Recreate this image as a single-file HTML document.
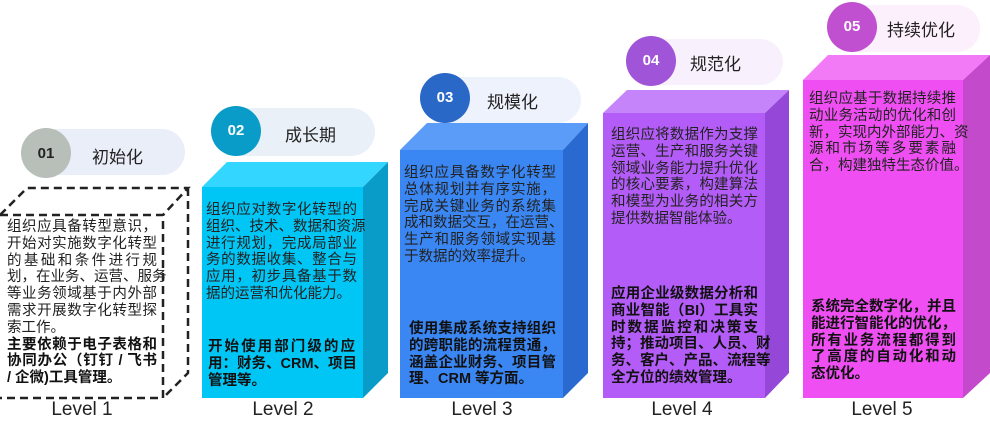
<!DOCTYPE html>
<html><head><meta charset="utf-8"><style>
body{margin:0;width:990px;height:430px;background:#fff;position:relative;overflow:hidden;font-family:"Liberation Sans","Noto Sans CJK SC",sans-serif;}
svg{position:absolute;left:0;top:0}
.t{position:absolute;font-size:14.5px;line-height:16.8px;color:#222;}
.t div{text-align:justify;text-align-last:justify;white-space:nowrap;}
.t div.e{text-align-last:left}
.b{font-weight:bold;color:#111}
.lv{position:absolute;top:399px;font-size:19px;color:#222;width:160px;text-align:center}
.n{position:absolute;font-weight:bold;color:#fff;font-size:15px;text-align:center;width:48px}
.h{position:absolute;font-size:17px;color:#222}
</style></head><body>
<svg width="990" height="430">
<g fill="none" stroke="#222" stroke-width="2.5" stroke-dasharray="8,5">
<polyline points="0,215 163,215 163,398 0,398"/>
<polyline points="0,215 27,188 188,188 163,215"/>
<polyline points="188,188 188,373 163,398"/>
</g>
<polygon points="202,187 227,162 388,162 363,187" fill="#33d6ff"/>
<polygon points="363,187 388,162 388,373 363,398" fill="#0a9cc8"/>
<rect x="202" y="187" width="161" height="211" fill="#00c6f6"/>
<polygon points="400,150 427,123 588,123 563,150" fill="#5a9cf7"/>
<polygon points="563,150 588,123 588,373 563,398" fill="#2a6ad0"/>
<rect x="400" y="150" width="163" height="248" fill="#3a86f2"/>
<polygon points="603,113 627,90 789,90 765,113" fill="#c684fa"/>
<polygon points="765,113 789,90 789,373 765,398" fill="#9548d8"/>
<rect x="603" y="113" width="162" height="285" fill="#b35cf7"/>
<polygon points="803,80 828,55 990,55 963,80" fill="#f27af7"/>
<polygon points="963,80 990,55 990,373 963,398" fill="#c44acc"/>
<rect x="803" y="80" width="160" height="318" fill="#ef4ff2"/>
<rect x="22" y="129" width="163" height="46" rx="23" fill="#eaeef8"/>
<circle cx="46" cy="153" r="25" fill="#b8bfb8"/>
<rect x="212" y="108" width="163" height="48" rx="24" fill="#eaf0f8"/>
<circle cx="236" cy="131" r="25" fill="#0a9cc8"/>
<rect x="421" y="77" width="160" height="46" rx="23" fill="#eef2fc"/>
<circle cx="445" cy="98" r="25" fill="#2a68c8"/>
<rect x="627" y="39" width="156" height="46" rx="23" fill="#f8f0fc"/>
<circle cx="651" cy="61" r="25" fill="#a054d8"/>
<rect x="828" y="5" width="152" height="47" rx="23" fill="#fcf0fc"/>
<circle cx="852" cy="27" r="25" fill="#c050d0"/>
</svg>
<div class="n" style="left:22px;top:145px;color:#222">01</div>
<div class="h" style="left:92px;top:143px">初始化</div>
<div class="n" style="left:212px;top:122px">02</div>
<div class="h" style="left:285px;top:121px">成长期</div>
<div class="n" style="left:421px;top:89px">03</div>
<div class="h" style="left:487px;top:88px">规模化</div>
<div class="n" style="left:627px;top:52px">04</div>
<div class="h" style="left:690px;top:50px">规范化</div>
<div class="n" style="left:828px;top:18px">05</div>
<div class="h" style="left:887px;top:16px">持续优化</div>

<div class="t" style="left:7px;top:219px;width:150px">
<div>组织应具备转型意识，</div><div>开始对实施数字化转型</div><div>的基础和条件进行规</div><div>划，在业务、运营、服务</div><div>等业务领域基于内外部</div><div>需求开展数字化转型探</div><div class="e">索工作。</div>
<div class="b">主要依赖于电子表格和</div><div class="b">协同办公（钉钉 / 飞书</div><div class="b e">/ 企微)工具管理。</div></div>
<div class="t" style="left:206px;top:202px;width:151px">
<div>组织应对数字化转型的</div><div>组织、技术、数据和资源</div><div>进行规划，完成局部业</div><div>务的数据收集、整合与</div><div>应用，初步具备基于数</div><div class="e">据的运营和优化能力。</div></div>
<div class="t b" style="left:208px;top:339px;width:147px">
<div>开始使用部门级的应</div><div>用：财务、CRM、项目</div><div class="e">管理等。</div></div>
<div class="t" style="left:404px;top:165px;width:152px">
<div>组织应具备数字化转型</div><div>总体规划并有序实施，</div><div>完成关键业务的系统集</div><div>成和数据交互，在运营、</div><div>生产和服务领域实现基</div><div class="e">于数据的效率提升。</div></div>
<div class="t b" style="left:409px;top:321px;width:147px">
<div>使用集成系统支持组织</div><div>的跨职能的流程贯通，</div><div>涵盖企业财务、项目管</div><div class="e">理、CRM 等方面。</div></div>
<div class="t" style="left:611px;top:127px;width:147px">
<div>组织应将数据作为支撑</div><div>运营、生产和服务关键</div><div>领域业务能力提升优化</div><div>的核心要素，构建算法</div><div>和模型为业务的相关方</div><div class="e">提供数据智能体验。</div></div>
<div class="t b" style="left:611px;top:286px;width:147px">
<div>应用企业级数据分析和</div><div>商业智能（BI）工具实</div><div>时数据监控和决策支</div><div>持；推动项目、人员、财</div><div>务、客户、产品、流程等</div><div class="e">全方位的绩效管理。</div></div>
<div class="t" style="left:809px;top:91px;width:147px">
<div>组织应基于数据持续推</div><div>动业务活动的优化和创</div><div>新，实现内外部能力、资</div><div>源和市场等多要素融</div><div class="e">合，构建独特生态价值。</div></div>
<div class="t b" style="left:811px;top:299px;width:145px">
<div>系统完全数字化，并且</div><div>能进行智能化的优化，</div><div>所有业务流程都得到</div><div>了高度的自动化和动</div><div class="e">态优化。</div></div>

<div class="lv" style="left:2px">Level 1</div>
<div class="lv" style="left:203px">Level 2</div>
<div class="lv" style="left:402px">Level 3</div>
<div class="lv" style="left:602px">Level 4</div>
<div class="lv" style="left:802px">Level 5</div>
</body></html>
